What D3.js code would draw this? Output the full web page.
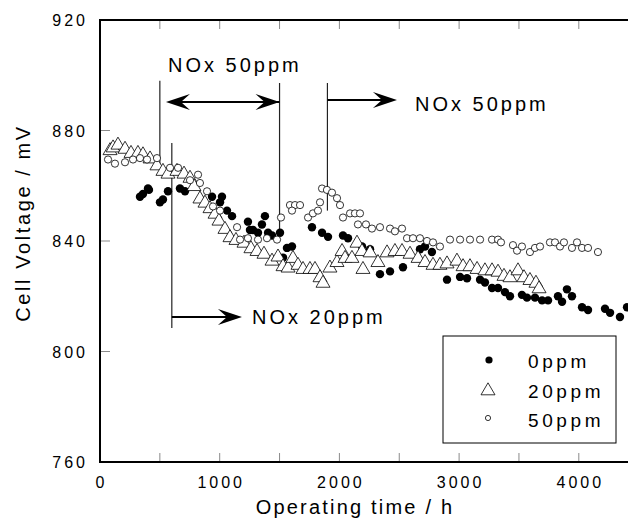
<!DOCTYPE html>
<html>
<head>
<meta charset="utf-8">
<script src="https://cdn.jsdelivr.net/npm/d3@7"></script>
<style>
	body { margin: 0; background: #fff; }
	svg { display: block; }
	text { font-family: "Liberation Sans", Arial, Helvetica, sans-serif; fill: #000; }
</style>
</head>
<body>
<div id="chart"></div>
<script>
'use strict';

// 0ppm (filled circles) : [hours, mV]
var ppm0 = [
	[334, 856], [359, 857], [401, 859], [409, 858.5], [501, 854], [526, 855], [568, 858], [668, 859],
	[710, 858], [936, 856], [1003, 854], [1019, 856], [1061, 851], [1103, 849], [1236, 847], [1253, 844],
	[1278, 844], [1320, 843], [1353, 846], [1378, 849], [1404, 843], [1437, 842], [1504, 843], [1529, 834],
	[1562, 837.5], [1604, 838], [1771, 845], [1855, 843], [1905, 841.5], [2030, 842], [2072, 841], [2189, 838],
	[2256, 837], [2339, 828], [2423, 829], [2531, 830.5], [2673, 837], [2715, 838], [2773, 836], [2899, 826],
	[3008, 827], [3066, 826.5], [3175, 826], [3216, 825], [3275, 823], [3325, 823], [3383, 821.5], [3425, 820],
	[3525, 820.5], [3567, 819.5], [3634, 819.5], [3693, 818.5], [3743, 818.5], [3826, 820], [3860, 818],
	[3901, 822.5], [3943, 820], [4027, 816], [4077, 815], [4219, 815.5], [4261, 814], [4344, 812.5], [4403, 816]
];

// 20ppm (open triangles)
var ppm20 = [
	[84, 873], [109, 874], [150, 875], [209, 873.5], [259, 872], [317, 872], [359, 871.5], [418, 870],
	[476, 867.5], [526, 865.5], [568, 864.5], [643, 865.5], [702, 864.5], [752, 863], [785, 860], [835, 855.5],
	[877, 854], [919, 852], [961, 850], [994, 847.5], [1044, 844.5], [1086, 841.5], [1136, 840.5], [1203, 839.5],
	[1261, 837.5], [1312, 836.5], [1370, 835.5], [1437, 833], [1487, 834.5], [1529, 831], [1571, 830.5], [1612, 834],
	[1654, 831.5], [1696, 830], [1754, 830], [1796, 830], [1838, 827], [1863, 825], [1921, 830.5], [1980, 832.5],
	[2022, 836.5], [2047, 834], [2105, 834], [2147, 839.5], [2189, 836.5], [2197, 830], [2256, 836], [2322, 832.5],
	[2398, 836], [2464, 836.5], [2523, 836.5], [2590, 835.5], [2657, 834], [2715, 832.5], [2782, 831.5], [2840, 831.5],
	[2899, 832], [2982, 833], [3033, 831], [3091, 831], [3150, 830], [3216, 829.5], [3275, 829.5], [3325, 829],
	[3375, 827.5], [3425, 827], [3492, 829.5], [3542, 827], [3592, 826], [3642, 825], [3668, 823]
];

// 50ppm (small open circles)
var ppm50 = [
	[67, 869.5], [125, 868], [209, 868.5], [276, 869.5], [334, 870], [393, 869.5], [476, 870], [585, 866.5],
	[652, 866.5], [752, 862], [819, 864], [835, 861], [894, 858], [944, 852.5], [1003, 851], [1145, 845],
	[1170, 840.5], [1236, 841], [1320, 840.5], [1395, 841], [1479, 840.5], [1512, 848.5], [1587, 853], [1629, 853],
	[1671, 853], [1604, 851], [1738, 848.5], [1779, 850], [1821, 851], [1838, 854], [1855, 859], [1896, 858.5],
	[1938, 857.5], [1980, 855.5], [2005, 853], [2030, 848.5], [2089, 850], [2130, 850], [2172, 850], [2155, 846],
	[2222, 846], [2272, 844.5], [2339, 845], [2423, 844.5], [2464, 843.5], [2523, 844.5], [2565, 841], [2615, 841],
	[2673, 841], [2732, 840], [2782, 839.5], [2840, 838], [2924, 840.5], [3008, 840.5], [3091, 840.5], [3175, 840.5],
	[3275, 840.5], [3325, 840.5], [3350, 839.5], [3450, 838.5], [3484, 836.5], [3525, 838], [3592, 836], [3634, 837.5],
	[3676, 838], [3759, 839.5], [3801, 839.5], [3843, 838], [3876, 839.5], [3943, 837.5], [3985, 839.5], [4027, 837.5],
	[4077, 837.5], [4160, 836]
];

var xTicks = [0, 1000, 2000, 3000, 4000];
var xMinorTicks = [500, 1000, 1500, 2000, 2500, 3000, 3500, 4000];
var yTicks = [760, 800, 840, 880, 920];
var yInnerTicks = [800, 840, 880];

// vertical marker lines: hour, from mV, to mV
var markerLines = [
	[500, 898, 864],
	[1500, 897.2, 843],
	[1900, 897.2, 851],
	[600, 875.5, 808.5]
];

// arrows: from hour, to hour, mV, double headed
var arrows = [
	[1500, 551, 890.3, true],
	[1900, 2481, 891, false],
	[600, 1186, 812.5, false]
];

// annotation labels: text, hour, mV
var notes = [
	["NOx 50ppm", 568, 901.2],
	["NOx 50ppm", 2632, 887.1],
	["NOx 20ppm", 1270, 810]
];

var legendLabels = ["0ppm", "20ppm", "50ppm"];

var WIDTH = 628;
var HEIGHT = 526;

var x = d3.scaleLinear()
	.domain([0, 4500])
	.range([100, 100 + 4500 * 0.1197]);

var y = d3.scaleLinear()
	.domain([760, 920])
	.range([462, 20]);

var svg = d3.select("#chart").append("svg")
	.attr("width", WIDTH)
	.attr("height", HEIGHT);

function trianglePath(w, h) {
	return "M0," + (-h * 0.6) + "L" + (w / 2) + "," + (h * 0.4) + "L" + (-w / 2) + "," + (h * 0.4) + "Z";
}

function arrowHead(tipX, tipY, dir) {
	// barbed arrow head pointing in dir (1 right, -1 left)
	var L = 24, W = 8, N = 15;
	return "M" + tipX + "," + tipY +
		"L" + (tipX - dir * L) + "," + (tipY - W) +
		"L" + (tipX - dir * N) + "," + tipY +
		"L" + (tipX - dir * L) + "," + (tipY + W) + "Z";
}

// ticks (inner, gray)
var tickColor = "#8a8a8a";

svg.selectAll(".xtick-b")
	.data(xMinorTicks)
	.enter().append("line")
	.attr("x1", function (d) { return x(d); })
	.attr("x2", function (d) { return x(d); })
	.attr("y1", y(760))
	.attr("y2", y(760) - 9)
	.style("stroke", tickColor)
	.style("stroke-width", 1);

svg.selectAll(".xtick-t")
	.data(xMinorTicks)
	.enter().append("line")
	.attr("x1", function (d) { return x(d); })
	.attr("x2", function (d) { return x(d); })
	.attr("y1", y(920))
	.attr("y2", y(920) + 9)
	.style("stroke", tickColor)
	.style("stroke-width", 1);

svg.selectAll(".ytick")
	.data(yInnerTicks)
	.enter().append("line")
	.attr("x1", x(0))
	.attr("x2", x(0) + 10)
	.attr("y1", function (d) { return y(d); })
	.attr("y2", function (d) { return y(d); })
	.style("stroke", tickColor)
	.style("stroke-width", 1);

// frame
svg.append("path")
	.attr("d", "M" + x(4500) + "," + y(920) + "H" + x(0) + "V" + y(760) + "H" + x(4500))
	.style("fill", "none")
	.style("stroke", "#000")
	.style("stroke-width", 2);

// tick labels
svg.selectAll(".xlabel")
	.data(xTicks)
	.enter().append("text")
	.attr("x", function (d) { return x(d) + 1.5; })
	.attr("y", 488)
	.attr("text-anchor", "middle")
	.style("font-size", "16px")
	.style("letter-spacing", "3px")
	.text(function (d) { return d; });

svg.selectAll(".ylabel")
	.data(yTicks)
	.enter().append("text")
	.attr("x", 88)
	.attr("y", function (d) { return y(d) + 6; })
	.attr("text-anchor", "end")
	.style("font-size", "16px")
	.style("letter-spacing", "3px")
	.text(function (d) { return d; });

// axis titles
svg.append("text")
	.attr("x", 355)
	.attr("y", 514)
	.attr("text-anchor", "middle")
	.style("font-size", "20px")
	.style("letter-spacing", "2.2px")
	.text("Operating time / h");

svg.append("text")
	.attr("transform", "translate(30,223) rotate(-90)")
	.attr("text-anchor", "middle")
	.style("font-size", "20px")
	.style("letter-spacing", "2.6px")
	.text("Cell Voltage / mV");

// annotation lines
svg.selectAll(".marker")
	.data(markerLines)
	.enter().append("line")
	.attr("x1", function (d) { return x(d[0]); })
	.attr("x2", function (d) { return x(d[0]); })
	.attr("y1", function (d) { return y(d[1]); })
	.attr("y2", function (d) { return y(d[2]); })
	.style("stroke", "#222")
	.style("stroke-width", 1.2);

arrows.forEach(function (a) {
	var x1 = x(a[0]), x2 = x(a[1]), yy = y(a[2]);
	var dir = x2 > x1 ? 1 : -1;
	svg.append("line")
		.attr("x1", x1)
		.attr("x2", x2 - dir * 14)
		.attr("y1", yy)
		.attr("y2", yy)
		.style("stroke", "#000")
		.style("stroke-width", 2);
	svg.append("path")
		.attr("d", arrowHead(x2, yy, dir))
		.style("fill", "#000");
	if (a[3]) {
		svg.append("path")
			.attr("d", arrowHead(x1, yy, -dir))
			.style("fill", "#000");
	}
});

svg.selectAll(".note")
	.data(notes)
	.enter().append("text")
	.attr("x", function (d) { return x(d[1]); })
	.attr("y", function (d) { return y(d[2]); })
	.style("font-size", "20px")
	.style("letter-spacing", "3px")
	.text(function (d) { return d[0]; });

// data points
svg.selectAll(".p0")
	.data(ppm0)
	.enter().append("circle")
	.attr("cx", function (d) { return x(d[0]); })
	.attr("cy", function (d) { return y(d[1]); })
	.attr("r", 4.2)
	.style("fill", "#000");

svg.selectAll(".p20")
	.data(ppm20)
	.enter().append("path")
	.attr("transform", function (d) { return "translate(" + x(d[0]) + "," + y(d[1]) + ")"; })
	.attr("d", trianglePath(14, 12))
	.style("fill", "#fff")
	.style("stroke", "#000")
	.style("stroke-width", 0.8);

svg.selectAll(".p50")
	.data(ppm50)
	.enter().append("circle")
	.attr("cx", function (d) { return x(d[0]); })
	.attr("cy", function (d) { return y(d[1]); })
	.attr("r", 3.6)
	.style("fill", "#fff")
	.style("stroke", "#000")
	.style("stroke-width", 0.8);

// legend
var legend = svg.append("g")
	.attr("transform", "translate(443,336)");

legend.append("rect")
	.attr("width", 173)
	.attr("height", 107)
	.style("fill", "#fff")
	.style("stroke", "#000")
	.style("stroke-width", 1);

legend.append("circle")
	.attr("cx", 46)
	.attr("cy", 24)
	.attr("r", 3.6)
	.style("fill", "#000");

legend.append("path")
	.attr("transform", "translate(45,54)")
	.attr("d", trianglePath(14, 12))
	.style("fill", "#fff")
	.style("stroke", "#000")
	.style("stroke-width", 0.8);

legend.append("circle")
	.attr("cx", 45)
	.attr("cy", 82)
	.attr("r", 2.6)
	.style("fill", "#fff")
	.style("stroke", "#000")
	.style("stroke-width", 0.8);

legend.selectAll(".leg-text")
	.data(legendLabels)
	.enter().append("text")
	.attr("x", 85)
	.attr("y", function (d, i) { return 32 + i * 29.5; })
	.style("font-size", "19px")
	.style("letter-spacing", "3.6px")
	.text(function (d) { return d; });
</script>
</body>
</html>
